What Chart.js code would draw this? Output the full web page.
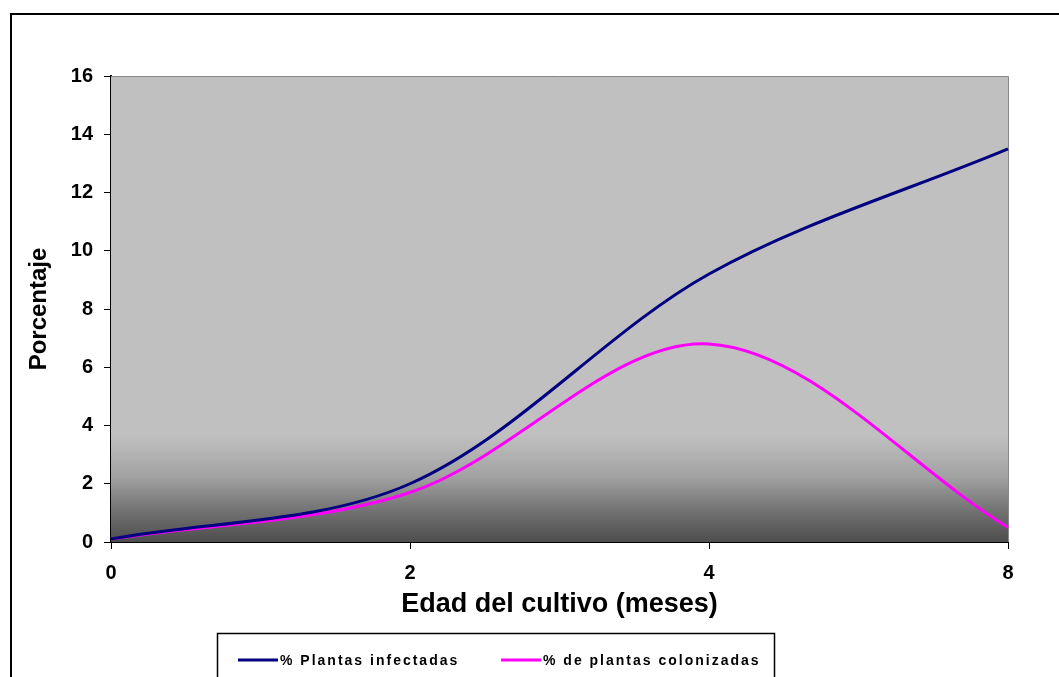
<!DOCTYPE html>
<html>
<head>
<meta charset="utf-8">
<script src="https://cdn.jsdelivr.net/npm/chart.js@4/dist/chart.umd.min.js"></script>
<style>
  html, body { margin: 0; padding: 0; background: #fff; }
  #wrap { position: relative; width: 1059px; height: 677px; }
</style>
</head>
<body>
<div id="wrap"><canvas id="chart" width="1059" height="677"></canvas></div>
<script>
// chart data
const months = ['0', '2', '4', '8'];
const infectadas = [0.1, 2.0, 9.2, 13.5];
const colonizadas = [0.1, 1.7, 6.8, 0.5];
const yTicks = [0, 2, 4, 6, 8, 10, 12, 14, 16];

const FONT = '"Liberation Sans", Arial, sans-serif';

// gray plot background + outer frame + boxed legend (Excel look)
const excelFrame = {
    id: 'excelFrame',
    beforeDatasetsDraw(chart) {
        const { ctx, chartArea: a } = chart;
        const g = ctx.createLinearGradient(0, a.top, 0, a.bottom);
        g.addColorStop(0, '#c0c0c0');
        g.addColorStop(0.77, '#c0c0c0');
        g.addColorStop(0.86, '#a2a2a2');
        g.addColorStop(0.93, '#747474');
        g.addColorStop(1, '#4d4d4d');
        ctx.save();
        ctx.fillStyle = g;
        ctx.fillRect(a.left, a.top, a.right - a.left, a.bottom - a.top);
        ctx.strokeStyle = '#888';
        ctx.lineWidth = 1;
        ctx.beginPath();
        ctx.moveTo(a.left, a.top + 0.5);
        ctx.lineTo(a.right + 0.5, a.top + 0.5);
        ctx.lineTo(a.right + 0.5, a.bottom);
        ctx.stroke();
        ctx.restore();
    },
    afterDraw(chart) {
        const { ctx } = chart;
        ctx.save();
        // outer chart border (right and bottom are off-picture)
        ctx.strokeStyle = '#000';
        ctx.lineWidth = 2;
        ctx.beginPath();
        ctx.moveTo(11, 700);
        ctx.lineTo(11, 14);
        ctx.lineTo(1070, 14);
        ctx.stroke();

        // legend box
        ctx.lineWidth = 1.5;
        ctx.strokeRect(217.5, 633.5, 557, 80);
        const entries = [
            { x: 238, ds: chart.data.datasets[0] },
            { x: 501, ds: chart.data.datasets[1] }
        ];
        ctx.font = 'bold 14px ' + FONT;
        ctx.textBaseline = 'middle';
        ctx.letterSpacing = '2px';
        entries.forEach(e => {
            ctx.strokeStyle = e.ds.borderColor;
            ctx.lineWidth = 3;
            ctx.beginPath();
            ctx.moveTo(e.x, 660);
            ctx.lineTo(e.x + 40, 660);
            ctx.stroke();
            ctx.fillStyle = '#000';
            ctx.fillText(e.ds.label, e.x + 42, 661);
        });
        ctx.restore();
    }
};

new Chart(document.getElementById('chart'), {
    type: 'line',
    data: {
        labels: months,
        datasets: [
            {
                label: '% Plantas infectadas',
                data: infectadas,
                borderColor: '#000080',
                borderWidth: 3,
                pointRadius: 0,
                tension: 0.33
            },
            {
                label: '% de plantas colonizadas',
                data: colonizadas,
                borderColor: '#ff00ff',
                borderWidth: 3,
                pointRadius: 0,
                tension: 0.33
            }
        ]
    },
    options: {
        responsive: false,
        animation: false,
        layout: { padding: { left: 10, top: 76, right: 51, bottom: 0 } },
        plugins: {
            legend: { display: false },
            tooltip: { enabled: false }
        },
        scales: {
            x: {
                offset: false,
                afterFit: (s) => { s.height = 135; },
                grid: { drawOnChartArea: false, color: '#000', tickLength: 7 },
                border: { color: '#000', width: 2 },
                ticks: { color: '#000', padding: 12, maxRotation: 0, font: { family: FONT, size: 20, weight: 'bold' } },
                title: {
                    display: true,
                    text: 'Edad del cultivo (meses)',
                    color: '#000',
                    font: { family: FONT, size: 27, weight: 'bold' },
                    padding: { bottom: 56 }
                }
            },
            y: {
                min: 0,
                max: 16,
                afterFit: (s) => { s.width = 101; },
                afterBuildTicks: (s) => { s.ticks = yTicks.map(v => ({ value: v })); },
                grid: { drawOnChartArea: false, color: '#000', tickLength: 7 },
                border: { color: '#000', width: 2 },
                ticks: { color: '#000', padding: 11, font: { family: FONT, size: 20, weight: 'bold' } },
                title: {
                    display: true,
                    text: 'Porcentaje',
                    color: '#000',
                    font: { family: FONT, size: 24, weight: 'bold' },
                    padding: { top: 15 }
                }
            }
        }
    },
    plugins: [excelFrame]
});
</script>
</body>
</html>
